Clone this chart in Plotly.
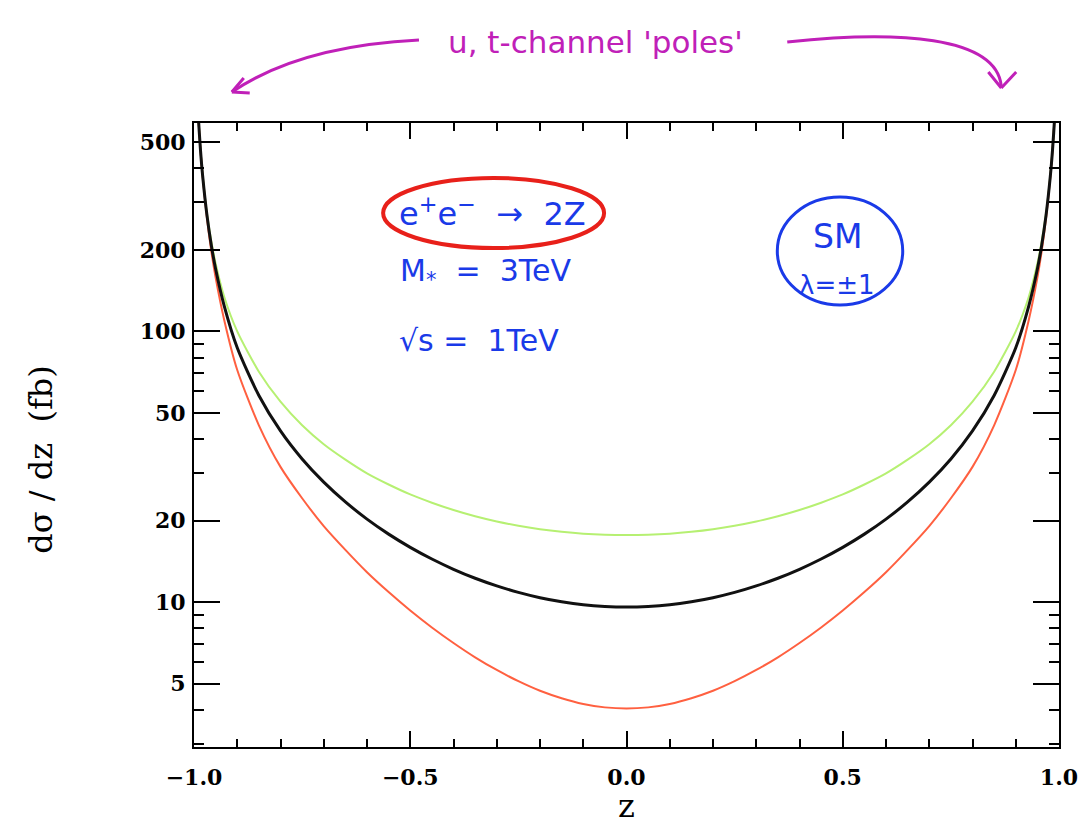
import plotly.graph_objects as go

# ---- data ----
z = [-0.995, -0.99, -0.985, -0.98, -0.97, -0.96, -0.95, -0.93, -0.9, -0.85, -0.8, -0.75, -0.7,
     -0.65, -0.6, -0.55, -0.5, -0.45, -0.4, -0.35, -0.3, -0.25, -0.2, -0.15, -0.1, -0.05, 0.0,
     0.05, 0.1, 0.15, 0.2, 0.25, 0.3, 0.35, 0.4, 0.45, 0.5, 0.55, 0.6, 0.65, 0.7, 0.75, 0.8,
     0.85, 0.9, 0.93, 0.95, 0.96, 0.97, 0.98, 0.985, 0.99, 0.995]
black_sm = [915, 620, 467, 375, 268, 208, 170, 124, 87, 58, 42.9, 33.8, 27.75,
            23.46, 20.27, 17.84, 15.94, 14.44, 13.23, 12.26, 11.49, 10.87, 10.39, 10.04, 9.79, 9.65, 9.6,
            9.65, 9.79, 10.04, 10.39, 10.87, 11.49, 12.26, 13.23, 14.44, 15.94, 17.84, 20.27, 23.46, 27.75,
            33.8, 42.9, 58, 87, 124, 170, 208, 268, 375, 467, 620, 915]
green_lam = [915, 620, 468, 378, 272, 215, 178, 134, 100, 71, 55.0, 45.0, 38.3,
             33.6, 29.9, 27.2, 25.0, 23.3, 21.9, 20.77, 19.87, 19.16, 18.61, 18.2, 17.91, 17.75, 17.7,
             17.75, 17.91, 18.2, 18.61, 19.16, 19.87, 20.77, 21.9, 23.3, 25.0, 27.2, 29.9, 33.6, 38.3,
             45.0, 55.0, 71, 100, 134, 178, 215, 272, 378, 468, 620, 915]
red_lam = [918, 622, 466, 372, 262, 198, 158, 110, 72, 45, 31.6, 24.2, 19.1,
           15.6, 12.9, 10.9, 9.32, 8.07, 7.07, 6.26, 5.62, 5.11, 4.71, 4.42, 4.21, 4.09, 4.05,
           4.09, 4.21, 4.42, 4.71, 5.11, 5.62, 6.26, 7.07, 8.07, 9.32, 10.9, 12.9, 15.6, 19.1,
           24.2, 31.6, 45, 72, 110, 158, 198, 262, 372, 466, 622, 918]

x_ticks = [-1.0, -0.5, 0.0, 0.5, 1.0]
x_tick_text = ["\u22121.0", "\u22120.5", "0.0", "0.5", "1.0"]
x_minor = [-0.9, -0.8, -0.7, -0.6, -0.4, -0.3, -0.2, -0.1, 0.1, 0.2, 0.3, 0.4, 0.6, 0.7, 0.8, 0.9]
y_ticks = [5, 10, 20, 50, 100, 200, 500]
y_minor = [3, 4, 6, 7, 8, 9, 30, 40, 60, 70, 80, 90, 300, 400]

fig = go.Figure()
fig.add_trace(go.Scatter(x=z, y=green_lam, mode="lines",
                         line=dict(color="#b6f072", width=2, shape="spline", smoothing=0.7)))
fig.add_trace(go.Scatter(x=z, y=red_lam, mode="lines",
                         line=dict(color="#ff6040", width=2, shape="spline", smoothing=0.7)))
fig.add_trace(go.Scatter(x=z, y=black_sm, mode="lines",
                         line=dict(color="#111111", width=3, shape="spline", smoothing=0.7)))

L, R, T, B = 194, 27, 123, 87
W, H = 1090, 834
pw, ph = W - L - R, H - T - B


def px(x):
    return (x - L) / pw


def py(y):
    return (H - B - y) / ph


tickfont = dict(family="DejaVu Serif", size=22, color="black", weight="bold")
fig.update_layout(
    width=W, height=H, margin=dict(l=L, r=R, t=T, b=B),
    paper_bgcolor="white", plot_bgcolor="white", showlegend=False,
    xaxis=dict(range=[-1, 1], tickmode="array", tickvals=x_ticks, ticktext=x_tick_text,
               ticks="inside", ticklen=16, tickwidth=2, tickcolor="black",
               minor=dict(tickmode="array", tickvals=x_minor, ticks="inside", ticklen=8,
                          tickwidth=2, tickcolor="black"),
               showline=True, linecolor="black", linewidth=2, mirror="allticks",
               showgrid=False, zeroline=False, tickfont=tickfont, ticklabelstandoff=10),
    yaxis=dict(type="log", range=[0.4654, 2.7694], tickmode="array", tickvals=y_ticks,
               ticktext=[str(v) for v in y_ticks],
               ticks="inside", ticklen=26, tickwidth=2, tickcolor="black",
               minor=dict(tickmode="array", tickvals=y_minor, ticks="inside", ticklen=10,
                          tickwidth=2, tickcolor="black"),
               showline=True, linecolor="black", linewidth=2, mirror="allticks",
               showgrid=False, zeroline=False, tickfont=tickfont, ticklabelstandoff=2),
)

serif = "DejaVu Serif"
hand = "DejaVu Sans"
blue = "#1a3ae8"
mag = "#c020b8"

ann = [
    dict(x=px(40), y=py(460), text="d\u03c3 / dz  (fb)", textangle=-90,
         font=dict(family=serif, size=32, color="black")),
    dict(x=px(628), y=py(806), text="z", font=dict(family=serif, size=32, color="black")),
    dict(x=px(494), y=py(212), text="e<sup>+</sup>e<sup>\u2212</sup>  \u2192  2Z",
         font=dict(family=hand, size=32, color=blue)),
    dict(x=px(487), y=py(272), text="M<sub>*</sub>  =  3TeV", font=dict(family=hand, size=30, color=blue)),
    dict(x=px(480), y=py(340), text="\u221As =  1TeV", font=dict(family=hand, size=30, color=blue)),
    dict(x=px(840), y=py(236), text="SM", font=dict(family=hand, size=33, color=blue)),
    dict(x=px(840), y=py(285), text="\u03bb=\u00b11", font=dict(family=hand, size=26, color=blue)),
    dict(x=px(597), y=py(42), text="u, t-channel 'poles'", font=dict(family=hand, size=31, color=mag)),
]
for a in ann:
    a.update(xref="paper", yref="paper", showarrow=False, xanchor="center", yanchor="middle")
fig.update_layout(annotations=ann)

shapes = [
    dict(type="circle", xref="paper", yref="paper", x0=px(384), x1=px(606), y0=py(248), y1=py(178),
         line=dict(color="#e8201a", width=4)),
    dict(type="circle", xref="paper", yref="paper", x0=px(780), x1=px(906), y0=py(305), y1=py(197),
         line=dict(color=blue, width=3)),
    dict(type="path", xref="paper", yref="paper",
         path=f"M {px(420)},{py(40)} Q {px(300)},{py(46)} {px(232)},{py(92)}",
         line=dict(color=mag, width=3)),
    dict(type="path", xref="paper", yref="paper",
         path=f"M {px(232)},{py(92)} L {px(244)},{py(78)} M {px(232)},{py(92)} L {px(250)},{py(93)}",
         line=dict(color=mag, width=3)),
    dict(type="path", xref="paper", yref="paper",
         path=f"M {px(790)},{py(42)} C {px(900)},{py(30)} {px(1000)},{py(36)} {px(1005)},{py(86)}",
         line=dict(color=mag, width=3)),
    dict(type="path", xref="paper", yref="paper",
         path=f"M {px(1005)},{py(88)} L {px(992)},{py(72)} M {px(1005)},{py(88)} L {px(1020)},{py(72)}",
         line=dict(color=mag, width=3)),
]
fig.update_layout(shapes=shapes)

fig.write_html("out.html")
